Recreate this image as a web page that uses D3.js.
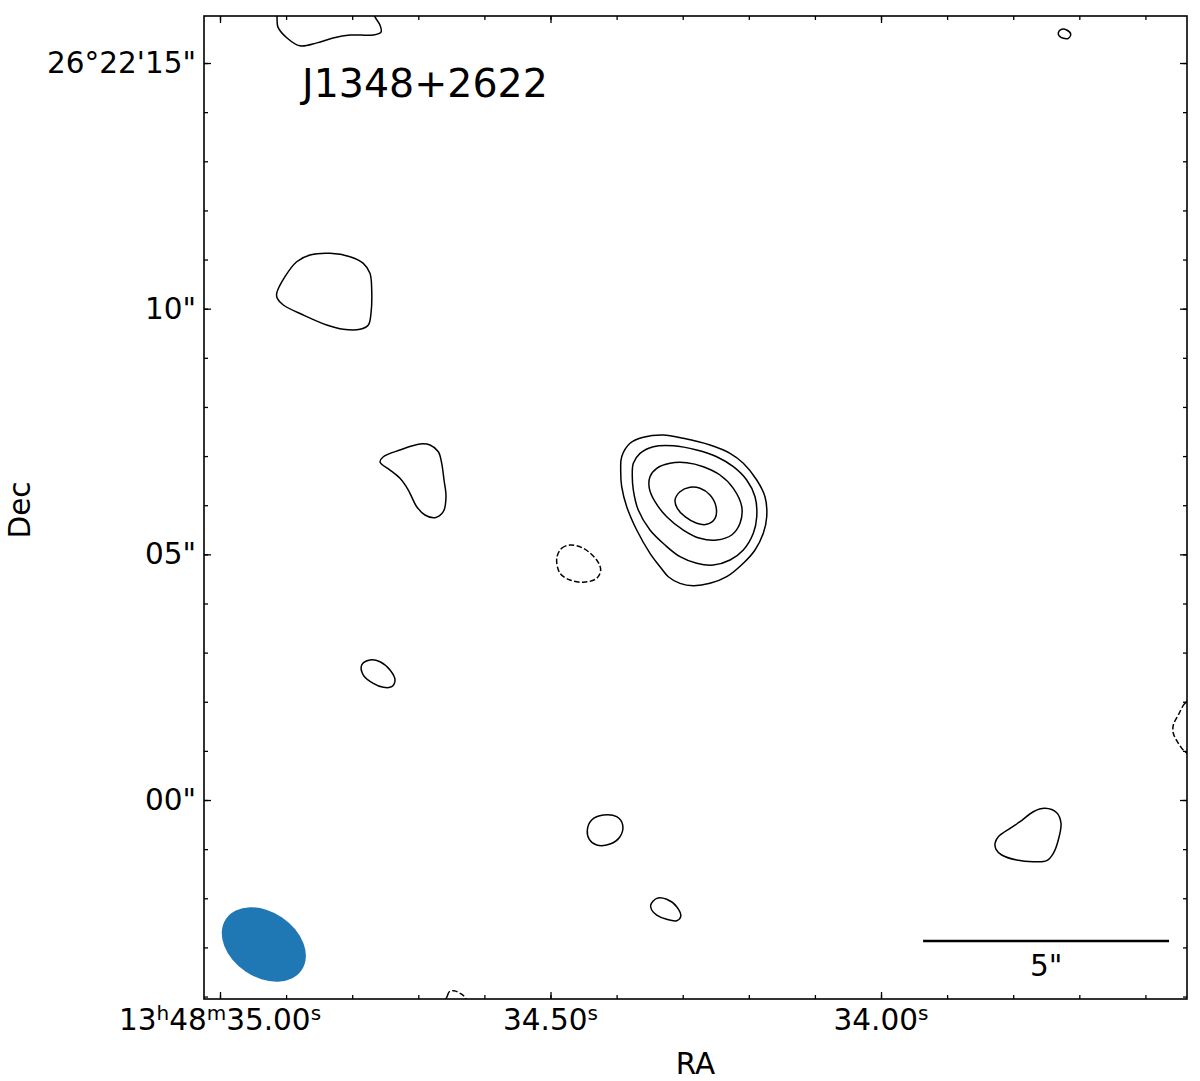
<!DOCTYPE html>
<html>
<head>
<meta charset="utf-8">
<script src="https://cdn.jsdelivr.net/npm/d3@7"></script>
<style>
body { margin: 0; background: #fff; }
svg { font-family: "DejaVu Sans", sans-serif; }
</style>
</head>
<body>
<svg width="1200" height="1081"></svg>
<script>
// RA in seconds of 13h48m, Dec in arcsec offset from +26d22m00s
var raRange = [35.0242, 33.5371],
    decRange = [-4.050, 15.957],
    dec0 = 26.3667;

var raMajor = [35.00, 34.50, 34.00],
    raLabels = ["13h48m35.00s", "34.50s", "34.00s"],
    decMajor = [15, 10, 5, 0],
    decLabels = ["26°22'15\"", "10\"", "05\"", "00\""];

var sourceName = "J1348+2622";

// positive contours [RA s, Dec "]
var cTopLeft = [[34.9153,16.12],[34.9138,15.94],[34.9123,15.73],[34.8986,15.51],[34.8790,15.35],[34.8533,15.41],[34.8290,15.51],[34.8033,15.57],[34.7685,15.57],[34.7564,15.63],[34.7579,15.77],[34.7655,15.94],[34.7700,16.12]];
var cBlob10 = [[34.9142,10.313],[34.9017,10.651],[34.8840,10.956],[34.8638,11.092],[34.8336,11.127],[34.8033,11.058],[34.7832,10.923],[34.7731,10.720],[34.7705,10.380],[34.7716,9.906],[34.7756,9.668],[34.7882,9.580],[34.8135,9.580],[34.8386,9.668],[34.8740,9.871],[34.9042,10.075],[34.9133,10.211]];
var cTriangle = [[34.7579,6.885],[34.7529,6.987],[34.7277,7.124],[34.6974,7.246],[34.6823,7.225],[34.6697,7.089],[34.6646,6.853],[34.6611,6.513],[34.6581,6.173],[34.6622,5.868],[34.6747,5.746],[34.6899,5.801],[34.7024,5.970],[34.7151,6.309],[34.7277,6.547],[34.7428,6.716],[34.7554,6.832]];
var cCore1 = [[34.3923,6.987],[34.3797,7.260],[34.3596,7.382],[34.3293,7.429],[34.2991,7.362],[34.2587,7.225],[34.2284,7.056],[34.2083,6.853],[34.1880,6.513],[34.1755,6.173],[34.1729,5.766],[34.1781,5.428],[34.1906,5.088],[34.2083,4.818],[34.2334,4.545],[34.2587,4.410],[34.2840,4.362],[34.3041,4.410],[34.3218,4.545],[34.3343,4.748],[34.3495,5.021],[34.3696,5.495],[34.3847,5.970],[34.3923,6.377],[34.3938,6.716]];
var cCore2 = [[34.3747,6.853],[34.3646,7.056],[34.3445,7.191],[34.3142,7.211],[34.2788,7.124],[34.2486,6.987],[34.2234,6.784],[34.2032,6.513],[34.1906,6.173],[34.1880,5.766],[34.1932,5.428],[34.2083,5.088],[34.2284,4.885],[34.2537,4.783],[34.2788,4.818],[34.3041,4.952],[34.3268,5.190],[34.3495,5.495],[34.3672,5.902],[34.3747,6.309],[34.3763,6.615]];
var cCore3 = [[34.3495,6.580],[34.3393,6.751],[34.3192,6.853],[34.2940,6.865],[34.2688,6.784],[34.2436,6.615],[34.2234,6.344],[34.2107,5.970],[34.2133,5.632],[34.2259,5.394],[34.2486,5.292],[34.2738,5.326],[34.2991,5.495],[34.3242,5.766],[34.3419,6.071],[34.3505,6.344]];
var cCore4 = [[34.3116,6.106],[34.3041,6.275],[34.2890,6.364],[34.2738,6.344],[34.2587,6.208],[34.2496,5.970],[34.2511,5.733],[34.2637,5.611],[34.2788,5.632],[34.2965,5.766],[34.3082,5.937]];
var cSmall3 = [[34.7856,2.748],[34.7731,2.849],[34.7579,2.815],[34.7428,2.646],[34.7352,2.442],[34.7402,2.306],[34.7529,2.294],[34.7681,2.375],[34.7832,2.544]];
var cSmallA = [[34.4443,-0.611],[34.4377,-0.407],[34.4201,-0.305],[34.3999,-0.340],[34.3908,-0.509],[34.3949,-0.747],[34.4100,-0.896],[34.4301,-0.916],[34.4413,-0.800]];
var cSmallB = [[34.3484,-2.137],[34.3393,-2.001],[34.3242,-2.021],[34.3091,-2.172],[34.3030,-2.375],[34.3091,-2.457],[34.3242,-2.428],[34.3393,-2.341],[34.3469,-2.239]];
var cRight = [[33.8275,-0.881],[33.8225,-0.747],[33.8048,-0.576],[33.7897,-0.442],[33.7696,-0.238],[33.7519,-0.169],[33.7342,-0.258],[33.7277,-0.474],[33.7318,-0.814],[33.7393,-1.085],[33.7493,-1.235],[33.7696,-1.256],[33.7947,-1.221],[33.8174,-1.119],[33.8260,-1.003]];
var cTiny = [[33.7318,15.617],[33.7266,15.686],[33.7191,15.672],[33.7130,15.590],[33.7166,15.503],[33.7242,15.503],[33.7303,15.550]];

// negative contours
var nMid = [[34.4906,4.919],[34.4831,5.123],[34.4705,5.190],[34.4504,5.123],[34.4301,4.885],[34.4241,4.681],[34.4301,4.512],[34.4504,4.431],[34.4705,4.478],[34.4856,4.614]];
var nEdge = [[33.5250,2.076],[33.5401,1.968],[33.5502,1.730],[33.5578,1.526],[33.5578,1.358],[33.5502,1.154],[33.5401,0.983],[33.5250,0.875]];
var nBottom = [[34.6611,-4.193],[34.6561,-3.989],[34.6531,-3.902],[34.6460,-3.881],[34.6369,-3.934],[34.6293,-4.016],[34.6248,-4.193]];

var posContours = [cTopLeft, cBlob10, cTriangle, cCore1, cCore2, cCore3, cCore4, cSmall3, cSmallA, cSmallB, cRight, cTiny],
    negContours = [nMid, nEdge, nBottom];

// restoring beam: centre, FWHM axes (arcsec), position angle (deg)
var beamPos = [34.9337, -2.94], beamAxes = [1.86, 1.33], beamPA = 56;
// scale bar: right end and length (arcsec)
var barPos = [33.5643, -2.87], barLen = 5;

var svg = d3.select("svg"),
    margin = {top: 16, right: 13, bottom: 82, left: 204},
    width = +svg.attr("width") - margin.left - margin.right,
    height = +svg.attr("height") - margin.top - margin.bottom;

var x = d3.scaleLinear().domain(raRange).range([0, width]),
    y = d3.scaleLinear().domain(decRange).range([height, 0]);

var g = svg.append("g")
    .attr("transform", "translate(" + margin.left + "," + margin.top + ")");

svg.append("defs").append("clipPath").attr("id", "plotclip")
  .append("rect").attr("width", width).attr("height", height);

var plot = g.append("g").attr("clip-path", "url(#plotclip)");

var line = d3.line()
    .curve(d3.curveCatmullRomClosed.alpha(0.5))
    .x(function(d) { return x(d[0]); })
    .y(function(d) { return y(d[1]); });

plot.selectAll(".pos")
  .data(posContours)
  .enter().append("path")
    .attr("class", "pos")
    .attr("d", line)
    .style("fill", "none")
    .style("stroke", "#000")
    .style("stroke-width", "1.5px");

plot.selectAll(".neg")
  .data(negContours)
  .enter().append("path")
    .attr("class", "neg")
    .attr("d", line)
    .style("fill", "none")
    .style("stroke", "#000")
    .style("stroke-width", "1.5px")
    .style("stroke-dasharray", "5.5,2.4");

// beam
var pxArc = Math.abs(y(0) - y(1));
plot.append("ellipse")
    .attr("transform", "translate(" + x(beamPos[0]) + "," + y(beamPos[1]) + ") rotate(" + (90 - beamPA) + ")")
    .attr("rx", beamAxes[0] / 2 * pxArc)
    .attr("ry", beamAxes[1] / 2 * pxArc)
    .style("fill", "#1f77b4");

// scale bar
var raPerArc = 1 / (15 * Math.cos(dec0 * Math.PI / 180));
var bx1 = x(barPos[0]), bx0 = x(barPos[0] + barLen * raPerArc), by = y(barPos[1]);
g.append("line")
    .attr("x1", bx0).attr("x2", bx1).attr("y1", by).attr("y2", by)
    .style("stroke", "#000").style("stroke-width", "2.5px");
g.append("text")
    .attr("x", (bx0 + bx1) / 2).attr("y", by + 35)
    .attr("text-anchor", "middle")
    .style("font-size", "29.5px")
    .text(barLen + "\"");

// title
g.append("text")
    .attr("x", 98).attr("y", 81)
    .style("font-size", "39.5px")
    .text(sourceName);

// ticks, pointing inwards on all four sides
var raMinor = d3.range(33.6, 35.05, 0.1),
    decMinor = d3.range(-4, 16, 1);

function ticks(axis, vals, size, tr) {
  var a = g.append("g").attr("transform", tr)
      .call(axis.tickValues(vals).tickSize(-size).tickFormat(""));
  a.select(".domain").remove();
  a.selectAll("line").style("stroke", "#000").style("stroke-width", "1.3px");
}
[[raMinor, 4], [raMajor, 7]].forEach(function(t) {
  ticks(d3.axisBottom(x), t[0], t[1], "translate(0," + height + ")");
  ticks(d3.axisTop(x), t[0], t[1], "translate(0,0)");
});
[[decMinor, 4], [decMajor, 7]].forEach(function(t) {
  ticks(d3.axisLeft(y), t[0], t[1], "translate(0,0)");
  ticks(d3.axisRight(y), t[0], t[1], "translate(" + width + ",0)");
});

g.append("rect")
    .attr("width", width).attr("height", height)
    .style("fill", "none").style("stroke", "#000").style("stroke-width", "1.6px");

// RA labels with superscript h, m, s
raMajor.forEach(function(v, i) {
  var t = g.append("text")
      .attr("x", x(v)).attr("y", height + 31)
      .attr("text-anchor", "middle")
      .style("font-size", "29.5px");
  var shift = 0;
  raLabels[i].split(/([hms])/).filter(function(s) { return s.length; }).forEach(function(s) {
    if (/^[hms]$/.test(s)) {
      t.append("tspan").attr("dy", -10).style("font-size", "20px").text(s);
      shift = 10;
    } else {
      t.append("tspan").attr("dy", shift).text(s);
      shift = 0;
    }
  });
});

decMajor.forEach(function(v, i) {
  g.append("text")
      .attr("x", -8).attr("y", y(v) + 10)
      .attr("text-anchor", "end")
      .style("font-size", "29.5px")
      .text(decLabels[i]);
});

svg.append("text")
    .attr("x", margin.left + width / 2).attr("y", 1074)
    .attr("text-anchor", "middle")
    .style("font-size", "29.5px")
    .text("RA");

svg.append("text")
    .attr("transform", "translate(30,510) rotate(-90)")
    .attr("text-anchor", "middle")
    .style("font-size", "29.5px")
    .text("Dec");
</script>
</body>
</html>
